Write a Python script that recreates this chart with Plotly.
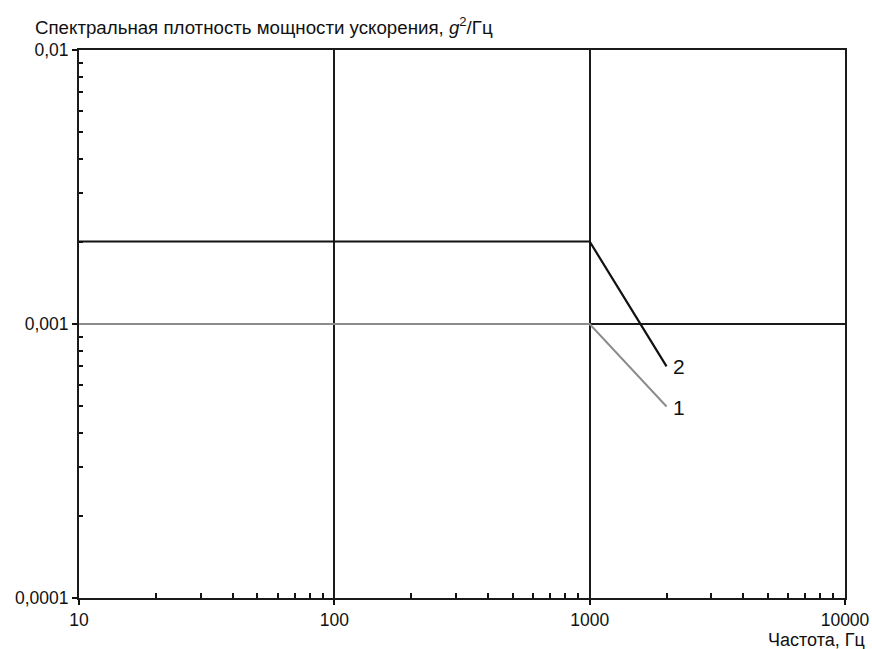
import math
import plotly.graph_objects as go

# Data
freq_1 = [10, 1000, 2000]
psd_1 = [0.001, 0.001, 0.0005]
freq_2 = [10, 1000, 2000]
psd_2 = [0.002, 0.002, 0.0007]
curve_labels = ["1", "2"]

x_tickvals = [10, 100, 1000, 10000]
x_ticktext = ["10", "100", "1000", "10000"]
y_tickvals = [0.0001, 0.001, 0.01]
y_ticktext = ["0,0001", "0,001", "0,01"]
minor_digits = [2, 3, 4, 5, 6, 7, 8, 9]

x_minor = [d * v for v in x_tickvals[:-1] for d in minor_digits]
y_minor = [d * v for v in y_tickvals[:-1] for d in minor_digits]

FONT = "Liberation Sans, Arial, sans-serif"

fig = go.Figure()
fig.add_trace(go.Scatter(x=freq_1, y=psd_1, mode="lines",
                         line=dict(color="#8c8c8c", width=2), showlegend=False))
fig.add_trace(go.Scatter(x=freq_2, y=psd_2, mode="lines",
                         line=dict(color="#111111", width=2.2), showlegend=False))

fig.add_annotation(x=math.log10(freq_2[-1]), y=math.log10(psd_2[-1]), text=curve_labels[1],
                   showarrow=False, xanchor="left", yanchor="middle", xshift=4,
                   font=dict(family=FONT, size=21, color="#111"))
fig.add_annotation(x=math.log10(freq_1[-1]), y=math.log10(psd_1[-1]), text=curve_labels[0],
                   showarrow=False, xanchor="left", yanchor="middle", xshift=4, yshift=-1,
                   font=dict(family=FONT, size=21, color="#111"))

fig.add_annotation(xref="paper", yref="paper", x=-0.06, y=1.0, yshift=24,
                   text="Спектральная плотность мощности ускорения, <i>g</i><sup>2</sup>/Гц",
                   showarrow=False, xanchor="left", yanchor="middle",
                   font=dict(family=FONT, size=18.7, color="#111"))
fig.add_annotation(xref="paper", yref="paper", x=1.0, y=0, yshift=-42, xshift=22,
                   text="Частота, Гц", showarrow=False, xanchor="right", yanchor="middle",
                   font=dict(family=FONT, size=18, color="#111"))

axis_common = dict(showline=True, linecolor="#1a1a1a", linewidth=2, mirror=True,
                   showgrid=True, gridcolor="#1a1a1a", gridwidth=1.6,
                   ticks="outside", ticklen=5, tickcolor="#111", tickwidth=1.5,
                   tickfont=dict(family=FONT, size=17.5, color="#111"), zeroline=False,
                   automargin=False)

fig.update_xaxes(type="log", range=[1, 4], tickmode="array", tickvals=x_tickvals,
                 ticktext=x_ticktext,
                 minor=dict(tickmode="array", tickvals=x_minor, ticks="inside", ticklen=5,
                            tickcolor="#111", tickwidth=1.5, showgrid=False),
                 **axis_common)
fig.update_yaxes(type="log", range=[-4, -2], tickmode="array", tickvals=y_tickvals,
                 ticktext=y_ticktext,
                 minor=dict(tickmode="array", tickvals=y_minor, ticks="inside", ticklen=4,
                            tickcolor="#111", tickwidth=1.5, showgrid=False),
                 **axis_common)

fig.update_layout(width=872, height=649, plot_bgcolor="white", paper_bgcolor="white",
                  margin=dict(l=79, r=27, t=50, b=51, pad=0),
                  font=dict(family=FONT, size=17, color="#111"))

fig.write_html("out.html", config={"displayModeBar": False},
               post_script="document.body.style.margin='0px';")
